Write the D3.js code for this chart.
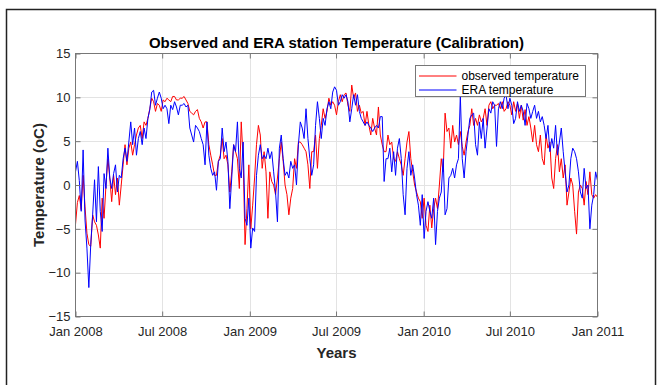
<!DOCTYPE html>
<html>
<head>
<meta charset="utf-8">
<script src="https://cdn.jsdelivr.net/npm/d3@7"></script>
<style>
  body { margin: 0; background: #fff; }
  svg { display: block; font-family: "Liberation Sans", Arial, sans-serif; }
</style>
</head>
<body>
<svg id="chart" width="661" height="385"></svg>
<script>
// samples every 4 days from 1 Jan 2008 to 1 Jan 2011
const startDate = "2008-01-01";
const stepDays = 4;

const observed = [
  -4.5,-2.0,-1.2,-2.8,1.1,-2.5,-5.5,-6.8,-7.0,-3.4, -4.2,-4.6,-5.7,-7.2,-1.5,-3.8,0.0,3.0,0.8,-1.9,
  1.1,-1.1,0.8,-2.3,0.0,2.3,4.6,2.3,4.2,4.9, 3.4,4.6,5.7,6.5,6.8,5.3,7.2,6.8,7.6,8.7,
  9.9,9.5,8.4,9.3,9.1,8.4,9.7,9.5,9.9,9.7, 9.5,10.1,10.1,9.7,9.7,9.9,
  9.9,10.1,9.7,9.3,8.4,8.2,8.0,8.4,8.6,7.6, 7.2,6.5,7.2,7.2,4.6,3.4,2.3,1.1,1.1,2.7,
  3.4,5.3,3.0,3.4,2.3,-0.8,1.5,4.6,3.8,3.0, -0.4,7.2,3.0,-6.8,-2.7,2.3,-5.0,-2.3,0.8,4.6,
  6.8,5.7,1.9,3.8,1.5,-3.8,1.5,0.4,0.0,-1.1, 0.8,3.0,4.9,2.7,0.0,
  -1.1,-3.4,-1.5,-0.4,3.0,1.9,4.9,4.9,4.6,4.2, 3.8,2.3,-0.4,3.8,3.8,5.7,1.9,5.3,6.8,8.7,
  7.6,8.4,9.9,9.1,9.5,9.1,8.0,9.5,10.3,9.5, 10.3,10.5,9.1,8.4,11.4,9.9,10.5,8.4,9.1,8.2,
  8.4,6.8,8.4,6.8,5.7,7.6,6.5,5.7,8.9,5.7, 4.6,3.8,3.8,5.7,4.6,
  4.9,3.0,2.7,3.8,3.0,2.3,1.1,3.0,4.9,6.1, 3.0,1.5,0.0,-0.8,-1.5,-1.9,-3.8,-1.5,-4.6,-5.3,
  -2.3,-4.9,-2.7,-1.5,-2.7,0.0,3.0,1.5,8.2,6.1, 6.5,4.2,6.8,4.9,5.7,4.6,6.1,4.4,3.4,4.9,
  6.1,6.8,8.7,6.8,7.6,6.8,8.0,7.2,7.6,8.7, 6.8,9.1,9.5,8.7,9.1,
  9.1,9.3,8.7,9.5,8.4,8.7,9.5,9.1,8.0,9.5, 8.4,9.3,7.6,9.1,7.4,8.6,6.8,7.8,6.5,4.9,
  6.8,4.6,3.8,5.7,3.0,2.3,5.7,4.2,4.9,0.8, -0.4,3.0,4.6,1.5,3.0,0.8,2.3,-2.3,-0.8,0.8,
  0.0,-3.0,-5.6,-0.8,0.0,-0.4,-2.3,0.4,-1.1,1.5, -1.1,-1.5,-1.1,-1.4
];

const era = [
  1.5,2.7,0.5,-3.0,4.0,-4.0,-7.2,-11.7,-6.8,-3.4, 0.6,-4.2,2.1,-3.0,-5.3,1.3,-0.4,4.2,0.8,-0.4,
  1.3,2.3,-0.8,1.1,0.8,3.0,4.2,2.7,4.9,7.2, 4.6,6.5,3.4,5.3,6.1,4.6,6.5,5.3,7.6,8.6,
  10.6,10.8,9.1,9.9,10.6,9.9,8.7,9.1,8.7,7.0, 9.1,8.6,9.5,8.9,8.0,9.1,
  9.1,9.3,8.9,9.1,6.5,5.7,4.9,6.8,6.5,6.1, 5.3,4.6,2.3,7.2,3.4,1.9,1.1,1.5,-0.6,2.7,
  3.0,6.5,3.8,4.9,2.7,-2.7,0.8,4.6,3.8,7.2, 1.9,0.8,4.9,-3.8,-4.6,-1.5,-7.2,-4.9,-5.3,1.1,
  3.4,4.6,3.0,3.4,3.0,4.2,3.0,3.8,1.5,-0.8, -4.2,4.2,5.7,3.0,1.1,
  1.5,0.8,2.7,1.9,2.3,0.0,4.6,7.2,6.5,5.3, 8.7,5.3,3.0,1.1,2.3,6.8,9.5,7.6,5.3,7.6,
  6.8,8.7,9.5,8.7,10.6,11.2,10.8,9.1,9.5,10.3, 9.9,10.3,9.5,7.2,8.7,10.3,9.1,10.3,8.4,7.6,
  7.2,6.8,7.2,6.8,6.5,6.1,6.5,6.8,6.5,7.8, 7.8,0.4,3.0,3.0,4.2,
  1.5,3.8,1.1,4.2,5.3,3.0,-1.1,-3.4,1.9,3.8, 1.1,2.3,0.8,-1.1,-2.3,-4.6,-1.1,-6.1,-3.0,-1.9,
  -3.0,-3.8,-1.5,-6.8,-3.0,-1.5,-0.8,3.0,-3.4,-2.7, 0.8,1.1,1.9,0.8,2.3,3.0,10.2,3.0,0.8,3.8,
  5.7,7.6,8.0,8.2,4.6,3.4,7.2,5.3,7.6,4.2, 6.5,8.7,8.2,9.5,9.1,
  4.4,8.7,9.5,8.7,9.9,10.3,8.7,9.9,9.1,7.0, 7.6,9.5,8.4,9.1,8.4,6.8,9.3,8.7,7.6,8.4,
  9.1,7.6,8.4,7.2,7.8,6.8,5.3,6.8,3.8,5.3, 4.2,6.8,3.4,4.9,6.5,3.8,1.5,-0.8,0.0,3.0,
  4.2,3.8,3.0,1.5,-0.8,-1.5,1.9,-0.4,0.0,-5.0, -2.3,-1.1,1.5,0.5
];

const xTickDates = ["2008-01-01","2008-07-01","2009-01-01","2009-07-01","2010-01-01","2010-07-01","2011-01-01"];
const yTicks = [-15, -10, -5, 0, 5, 10, 15];
const seriesNames = ["observed temperature", "ERA temperature"];
const seriesColors = ["#ff0000", "#0000ff"];

const M = { left: 75.5, right: 597.5, top: 53.5, bottom: 316.5 };

const parse = d3.utcParse("%Y-%m-%d");
const t0 = parse(startDate);
const toPoints = arr => arr.map((v, i) => ({ date: d3.utcDay.offset(t0, i * stepDays), value: v }));

const x = d3.scaleUtc()
    .domain([parse(xTickDates[0]), parse(xTickDates[xTickDates.length - 1])])
    .range([M.left, M.right]);
const y = d3.scaleLinear().domain([-15, 15]).range([M.bottom, M.top]);

const svg = d3.select("#chart");

// outer figure frame
svg.append("rect")
    .attr("x", 6.5).attr("y", 9.5)
    .attr("width", 649).attr("height", 400)
    .attr("fill", "none").attr("stroke", "#222").attr("stroke-width", 1.5);

// grid
const grid = svg.append("g").attr("stroke", "#e3e3e3").attr("stroke-width", 1);
grid.selectAll("line.gx").data(xTickDates.slice(1, -1)).join("line").attr("class", "gx")
    .attr("x1", d => Math.round(x(parse(d))) + 0.5).attr("x2", d => Math.round(x(parse(d))) + 0.5)
    .attr("y1", M.top).attr("y2", M.bottom);
grid.selectAll("line.gy").data(yTicks.slice(1, -1)).join("line").attr("class", "gy")
    .attr("y1", d => Math.round(y(d)) + 0.5).attr("y2", d => Math.round(y(d)) + 0.5)
    .attr("x1", M.left).attr("x2", M.right);

// data lines
svg.append("clipPath").attr("id", "plotclip")
    .append("rect").attr("x", M.left).attr("y", M.top)
    .attr("width", M.right - M.left).attr("height", M.bottom - M.top);

const line = d3.line().x(d => x(d.date)).y(d => y(d.value));
const plot = svg.append("g").attr("clip-path", "url(#plotclip)");
[observed, era].forEach((arr, i) => {
  plot.append("path")
      .datum(toPoints(arr))
      .attr("fill", "none")
      .attr("stroke", seriesColors[i])
      .attr("stroke-width", 1)
      .attr("stroke-linejoin", "round")
      .attr("d", line);
});

// axes
const axisColor = "#777";
const tickDates = xTickDates.map(parse);
const fmt = d3.utcFormat("%b %Y");

function styleAxis(g) {
  g.select(".domain").remove();
  g.selectAll(".tick line").attr("stroke", axisColor);
  g.selectAll(".tick text").attr("fill", "#262626").attr("font-size", 13)
      .attr("font-family", "'Liberation Sans', Arial, sans-serif");
}

svg.append("g").attr("transform", `translate(0,${M.bottom})`)
    .call(d3.axisBottom(x).tickValues(tickDates).tickFormat(fmt).tickSizeInner(-5).tickSizeOuter(0).tickPadding(10))
    .call(styleAxis);
svg.append("g").attr("transform", `translate(0,${M.top})`)
    .call(d3.axisTop(x).tickValues(tickDates).tickFormat("").tickSizeInner(-5).tickSizeOuter(0))
    .call(styleAxis);
svg.append("g").attr("transform", `translate(${M.left},0)`)
    .call(d3.axisLeft(y).tickValues(yTicks).tickSizeInner(-5).tickSizeOuter(0).tickPadding(5))
    .call(styleAxis);
svg.append("g").attr("transform", `translate(${M.right},0)`)
    .call(d3.axisRight(y).tickValues(yTicks).tickFormat("").tickSizeInner(-5).tickSizeOuter(0))
    .call(styleAxis);

svg.append("rect")
    .attr("x", M.left).attr("y", M.top)
    .attr("width", M.right - M.left).attr("height", M.bottom - M.top)
    .attr("fill", "none").attr("stroke", axisColor).attr("stroke-width", 1);

// title and labels
svg.append("text")
    .attr("x", (M.left + M.right) / 2).attr("y", 48)
    .attr("text-anchor", "middle").attr("font-weight", "bold").attr("font-size", 15)
    .attr("fill", "#000")
    .text("Observed and ERA station Temperature (Calibration)");

svg.append("text")
    .attr("x", (M.left + M.right) / 2).attr("y", 358)
    .attr("text-anchor", "middle").attr("font-weight", "bold").attr("font-size", 15)
    .attr("fill", "#262626")
    .text("Years");

svg.append("text")
    .attr("transform", `translate(43.5,${(M.top + M.bottom) / 2}) rotate(-90)`)
    .attr("text-anchor", "middle").attr("font-weight", "bold").attr("font-size", 15)
    .attr("fill", "#262626")
    .text("Temperature (oC)");

// legend (white box drawn over the data, as in the original)
const lg = svg.append("g").attr("transform", "translate(415.5,65.5)");
lg.append("rect").attr("width", 170).attr("height", 31)
    .attr("fill", "#fff").attr("stroke", axisColor).attr("stroke-width", 1);
const rows = lg.selectAll("g.row").data(seriesNames).join("g")
    .attr("class", "row")
    .attr("transform", (d, i) => `translate(0,${10.5 + i * 14})`);
rows.append("path")
    .attr("d", "M3.5,0H41")
    .attr("fill", "none")
    .attr("stroke", (d, i) => seriesColors[i])
    .attr("stroke-width", 1);
rows.append("text").attr("x", 46).attr("dy", "0.35em")
    .attr("font-size", 12).attr("fill", "#000").text(d => d);
</script>
</body>
</html>
